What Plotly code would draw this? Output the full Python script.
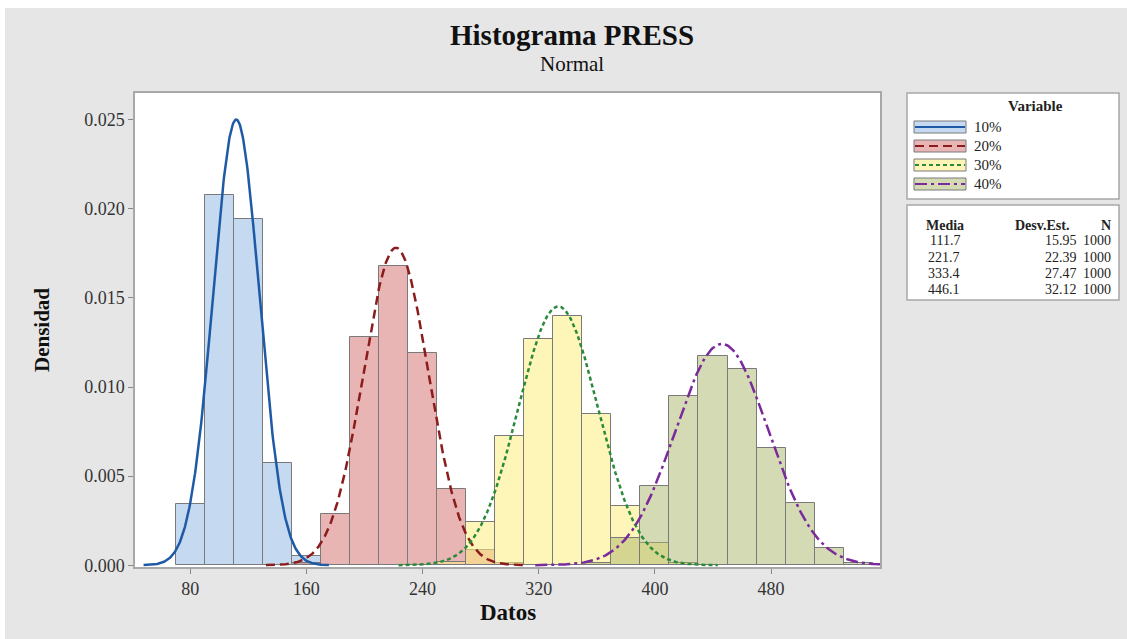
import numpy as np
import plotly.graph_objects as go

# ---------------- data ----------------
series_names = ["10%", "20%", "30%", "40%"]
means = [111.7, 221.7, 333.4, 446.1]
stdevs = [15.95, 22.39, 27.47, 32.12]
counts = [1000, 1000, 1000, 1000]
bin_width = 20

centers_10 = [80, 100, 120, 140, 160]
dens_10 = [0.00345, 0.02075, 0.01945, 0.00573, 0.00052]

centers_20 = [160, 180, 200, 220, 240, 260, 280, 300]
dens_20 = [0.0001, 0.00290, 0.01280, 0.01680, 0.01190, 0.00425, 0.00084, 0.0001]

centers_30 = [260, 280, 300, 320, 340, 360, 380, 400, 420]
dens_30 = [0.0002, 0.00243, 0.00726, 0.01268, 0.01401, 0.00848, 0.00331, 0.00122, 0.0001]

centers_40 = [360, 380, 400, 420, 440, 460, 480, 500, 520, 540]
dens_40 = [0.0001, 0.00150, 0.00446, 0.00951, 0.01176, 0.01099, 0.00659, 0.00347, 0.00094, 0.00015]

x_ticks = [80, 160, 240, 320, 400, 480]
y_ticks = [0.000, 0.005, 0.010, 0.015, 0.020, 0.025]

# ---------------- styles ----------------
fills = ["rgba(140,180,225,0.5)", "rgba(209,105,105,0.5)",
         "rgba(253,237,125,0.55)", "rgba(169,181,105,0.5)"]
fill_solid = ["#c5d9f0", "#e8b4b4", "#fef4b8", "#d4dab4"]
line_cols = ["#1f5aa6", "#8b1c1c", "#2a8a3a", "#7b2a9b"]
dashes = ["solid", "9px,5px", "4px,3px", "12px,4px,3px,4px"]
FONT = "Liberation Serif, Times New Roman, serif"

W, H = 1127, 639
L, R, T, B = 135, 880, 93, 567
pw, ph = R - L, B - T


def px(xp):
    return (xp - L) / pw


def py(yp):
    return (B - yp) / ph


fig = go.Figure()
bars = [(centers_10, dens_10), (centers_20, dens_20), (centers_30, dens_30), (centers_40, dens_40)]
for i, (c, d) in enumerate(bars):
    fig.add_trace(go.Bar(x=c, y=d, width=bin_width, marker=dict(color=fills[i],
                  line=dict(color="#7a7a7a", width=1)), name=series_names[i], showlegend=False))

for i in range(4):
    xs = np.linspace(means[i] - 4 * stdevs[i], means[i] + 4 * stdevs[i], 300)
    ys = np.exp(-0.5 * ((xs - means[i]) / stdevs[i]) ** 2) / (stdevs[i] * np.sqrt(2 * np.pi))
    fig.add_trace(go.Scatter(x=xs, y=ys, mode="lines", showlegend=False,
                             line=dict(color=line_cols[i], width=2.5, dash=dashes[i])))

shapes = []
# figure background (white strip at top/left)
shapes.append(dict(type="rect", xref="paper", yref="paper", x0=px(5), x1=px(W + 5),
                   y0=py(8), y1=py(H + 5), fillcolor="#e6e6e6", line=dict(width=0), layer="below"))
shapes.append(dict(type="rect", xref="paper", yref="paper", x0=0, x1=1, y0=0, y1=1,
                   fillcolor="white", line=dict(width=0), layer="below"))

# legend box
lb = (907, 1119, 93, 199)
shapes.append(dict(type="rect", xref="paper", yref="paper", x0=px(lb[0]), x1=px(lb[1]),
                   y0=py(lb[3]), y1=py(lb[2]), fillcolor="white", line=dict(color="#a8a8a8", width=1.5)))
tb = (907, 1119, 205, 300)
shapes.append(dict(type="rect", xref="paper", yref="paper", x0=px(tb[0]), x1=px(tb[1]),
                   y0=py(tb[3]), y1=py(tb[2]), fillcolor="white", line=dict(color="#a8a8a8", width=1.5)))

annotations = []
annotations.append(dict(text="<b>Variable</b>", x=px(1035), y=py(106), xref="paper", yref="paper",
                        showarrow=False, font=dict(family=FONT, size=15, color="#222"), xanchor="center", yanchor="middle"))
row_y = [127, 146, 165, 184]
for i in range(4):
    yc = row_y[i]
    shapes.append(dict(type="rect", xref="paper", yref="paper", x0=px(914), x1=px(966),
                       y0=py(yc + 6), y1=py(yc - 6), fillcolor=fill_solid[i],
                       line=dict(color="#7a7a7a", width=1)))
    shapes.append(dict(type="line", xref="paper", yref="paper", x0=px(915), x1=px(965),
                       y0=py(yc), y1=py(yc), line=dict(color=line_cols[i], width=2, dash=dashes[i])))
    annotations.append(dict(text=series_names[i], x=px(972), y=py(yc), xref="paper", yref="paper",
                            showarrow=False, xanchor="left", yanchor="middle",
                            font=dict(family=FONT, size=15, color="#222")))

hdr_y = 225
TS = 14
annotations.append(dict(text="<b>Media</b>", x=px(966), y=py(hdr_y), xref="paper", yref="paper", showarrow=False,
                        xanchor="right", yanchor="middle", font=dict(family=FONT, size=TS, color="#222")))
annotations.append(dict(text="<b>Desv.Est.</b>", x=px(1071), y=py(hdr_y), xref="paper", yref="paper", showarrow=False,
                        xanchor="right", yanchor="middle", font=dict(family=FONT, size=TS, color="#222")))
annotations.append(dict(text="<b>N</b>", x=px(1113), y=py(hdr_y), xref="paper", yref="paper", showarrow=False,
                        xanchor="right", yanchor="middle", font=dict(family=FONT, size=TS, color="#222")))
for i in range(4):
    yc = hdr_y + 16 * (i + 1)
    for txt, xr in [(f"{means[i]:.1f}", 962), (f"{stdevs[i]:.2f}", 1079), (str(counts[i]), 1113)]:
        annotations.append(dict(text=txt, x=px(xr), y=py(yc), xref="paper", yref="paper", showarrow=False,
                                xanchor="right", yanchor="middle", font=dict(family=FONT, size=TS, color="#222")))

# titles
annotations.append(dict(text="<b>Histograma PRESS</b>", x=px(572), y=py(35), xref="paper", yref="paper",
                        showarrow=False, font=dict(family=FONT, size=29, color="#111"), xanchor="center", yanchor="middle"))
annotations.append(dict(text="Normal", x=px(572), y=py(64), xref="paper", yref="paper",
                        showarrow=False, font=dict(family=FONT, size=21, color="#111"), xanchor="center", yanchor="middle"))
annotations.append(dict(text="<b>Datos</b>", x=px(508), y=py(612), xref="paper", yref="paper",
                        showarrow=False, font=dict(family=FONT, size=23, color="#111"), xanchor="center", yanchor="middle"))
annotations.append(dict(text="<b>Densidad</b>", x=px(42), y=py(330), xref="paper", yref="paper", textangle=-90,
                        showarrow=False, font=dict(family=FONT, size=21, color="#111"), xanchor="center", yanchor="middle"))

fig.update_layout(
    width=W, height=H, margin=dict(l=L, r=W - R, t=T, b=H - B),
    paper_bgcolor="white", plot_bgcolor="white", barmode="overlay", bargap=0,
    shapes=shapes, annotations=annotations, showlegend=False,
    font=dict(family=FONT, color="#222"),
)
fig.update_xaxes(range=[42, 555], tickvals=x_ticks, ticktext=[str(v) for v in x_ticks],
                 showline=True, linecolor="#a8a8a8", linewidth=1.5, mirror=True, showgrid=False, zeroline=False,
                 ticks="outside", ticklen=5, tickcolor="#888", tickfont=dict(family=FONT, size=18, color="#333"))
fig.update_yaxes(range=[-0.0001, 0.0265], tickvals=y_ticks, ticktext=[f"{v:.3f}" for v in y_ticks],
                 showline=True, linecolor="#a8a8a8", linewidth=1.5, mirror=True, showgrid=False, zeroline=False,
                 ticks="outside", ticklen=5, tickcolor="#888", tickfont=dict(family=FONT, size=18, color="#333"))

fig.write_html("out.html", config={"displayModeBar": False},
               post_script="document.body.style.margin='0';document.body.style.overflow='hidden';")
